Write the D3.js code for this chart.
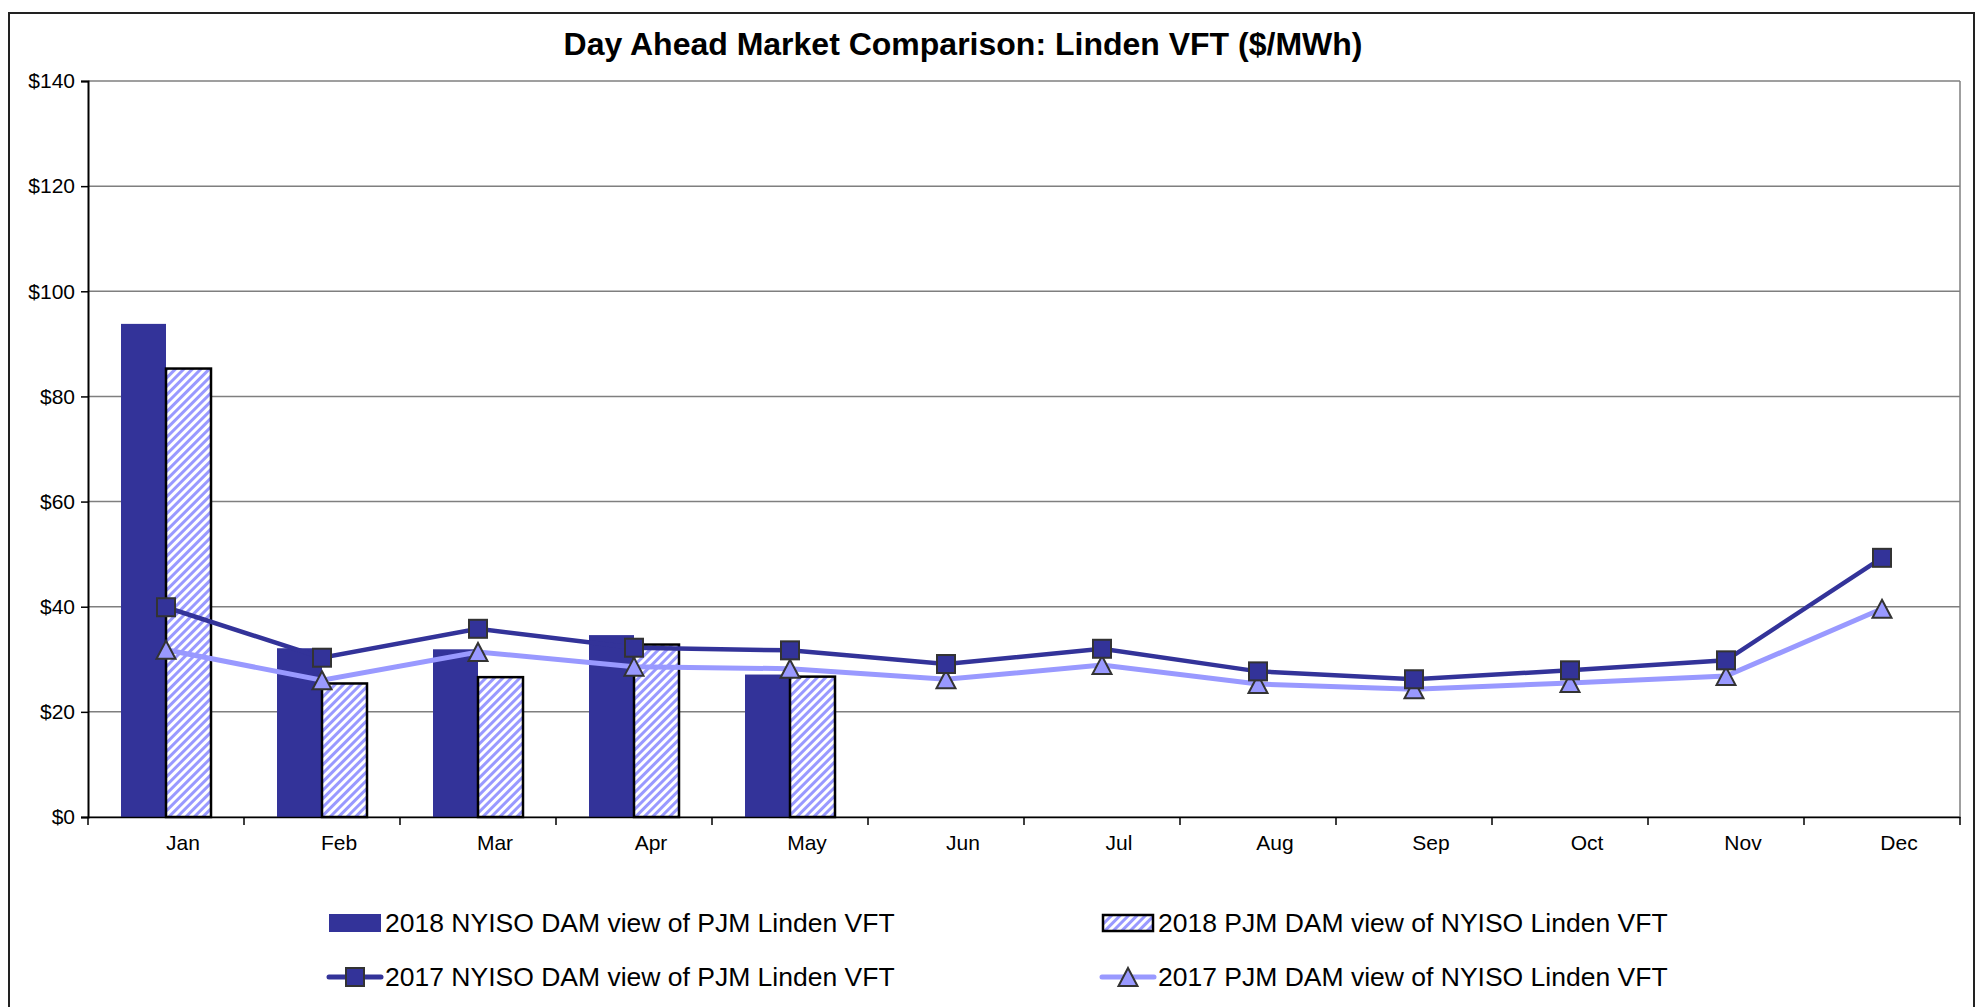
<!DOCTYPE html>
<html>
<head>
<meta charset="utf-8">
<script src="https://cdn.jsdelivr.net/npm/d3@7"></script>
<style>
  body { margin: 0; background: #fff; }
  svg { display: block; font-family: "Liberation Sans", Arial, sans-serif; }
</style>
</head>
<body>
<svg width="1982" height="1007"></svg>
<script>
var months = ['Jan', 'Feb', 'Mar', 'Apr', 'May', 'Jun', 'Jul', 'Aug', 'Sep', 'Oct', 'Nov', 'Dec'];
var yTicks = [0, 20, 40, 60, 80, 100, 120, 140];
// 2018 bars (only Jan-May)
var nyiso2018 = [93.8, 32.1, 31.9, 34.6, 27.1];
var pjm2018 = [85.3, 25.4, 26.6, 32.8, 26.7];
// 2017 lines
var nyiso2017 = [39.9, 30.3, 35.8, 32.2, 31.7, 29.1, 32.0, 27.7, 26.2, 27.9, 29.8, 49.3];
var pjm2017 = [31.8, 26.0, 31.4, 28.6, 28.2, 26.2, 28.9, 25.3, 24.3, 25.5, 26.8, 39.6];
var seriesNames = ['2018 NYISO DAM view of PJM Linden VFT', '2018 PJM DAM view of NYISO Linden VFT',
  '2017 NYISO DAM view of PJM Linden VFT', '2017 PJM DAM view of NYISO Linden VFT'];

var svg = d3.select('svg');
var dark = '#333399', light = '#9999ff', markStroke = '#333333';
var plotLeft = 88, plotTop = 81, plotW = 1872, plotH = 736;

// hatch pattern for the PJM bars
var defs = svg.append('defs');
var pat = defs.append('pattern')
  .attr('id', 'hatch')
  .attr('patternUnits', 'userSpaceOnUse')
  .attr('width', 6).attr('height', 6)
  .attr('patternTransform', 'rotate(45)');
pat.append('rect').attr('width', 6).attr('height', 6).attr('fill', '#fff');
pat.append('rect').attr('width', 3).attr('height', 6).attr('fill', light);

// outer frame
svg.append('rect')
  .attr('x', 9).attr('y', 13).attr('width', 1965).attr('height', 1020)
  .attr('fill', 'none').attr('stroke', '#222').attr('stroke-width', 2);

svg.append('text')
  .attr('x', 963).attr('y', 55)
  .attr('text-anchor', 'middle')
  .attr('font-size', 32).attr('font-weight', 'bold')
  .text('Day Ahead Market Comparison: Linden VFT ($/MWh)');

var g = svg.append('g').attr('transform', 'translate(' + plotLeft + ',' + plotTop + ')');

var x = d3.scaleBand().domain(months).range([0, plotW]);
var y = d3.scaleLinear().domain([0, 140]).range([plotH, 0]);
var barW = 45;

// gridlines
g.selectAll('.grid').data(yTicks).enter().append('line')
  .attr('x1', 0).attr('x2', plotW)
  .attr('y1', function(d) { return y(d); })
  .attr('y2', function(d) { return y(d); })
  .attr('stroke', '#7f7f7f').attr('stroke-width', 1.5);

// right edge of plot area
g.append('line')
  .attr('x1', plotW).attr('x2', plotW).attr('y1', 0).attr('y2', plotH)
  .attr('stroke', '#7f7f7f').attr('stroke-width', 1.5);

// bars
g.selectAll('.b1').data(nyiso2018).enter().append('rect')
  .attr('x', function(d, i) { return x(months[i]) + x.bandwidth() / 2 - barW; })
  .attr('y', function(d) { return y(d); })
  .attr('width', barW)
  .attr('height', function(d) { return plotH - y(d); })
  .attr('fill', dark);

g.selectAll('.b2').data(pjm2018).enter().append('rect')
  .attr('x', function(d, i) { return x(months[i]) + x.bandwidth() / 2; })
  .attr('y', function(d) { return y(d); })
  .attr('width', barW)
  .attr('height', function(d) { return plotH - y(d); })
  .attr('fill', 'url(#hatch)')
  .attr('stroke', '#000').attr('stroke-width', 2.5);

// axes
var yAxis = g.append('g')
  .call(d3.axisLeft(y).tickValues(yTicks).tickSize(7).tickPadding(6)
    .tickFormat(function(d) { return '$' + d; }));
yAxis.select('.domain').attr('stroke', '#000').attr('stroke-width', 2);
yAxis.selectAll('.tick line').attr('stroke', '#000').attr('stroke-width', 1.5);
yAxis.selectAll('text').attr('font-size', 21).attr('fill', '#000')
  .style('font-family', '"Liberation Sans", Arial, sans-serif');

var xAxis = g.append('g')
  .attr('transform', 'translate(0,' + plotH + ')')
  .call(d3.axisBottom(x).tickSize(0).tickPadding(18));
xAxis.select('.domain').attr('stroke', '#000').attr('stroke-width', 1.5);
// the month labels sit a little right of the band centre in the original
xAxis.selectAll('text').attr('font-size', 21).attr('fill', '#000').attr('dx', 17)
  .style('font-family', '"Liberation Sans", Arial, sans-serif');
xAxis.selectAll('.bnd').data(months.concat(['end'])).enter().append('line')
  .attr('x1', function(d, i) { return i * x.step(); })
  .attr('x2', function(d, i) { return i * x.step(); })
  .attr('y1', 0).attr('y2', 8)
  .attr('stroke', '#000').attr('stroke-width', 1.5);

// lines
var cx = function(d, i) { return x(months[i]) + x.bandwidth() / 2; };
var line = d3.line().x(cx).y(function(d) { return y(d); });

g.append('path').datum(pjm2017)
  .attr('d', line).attr('fill', 'none')
  .attr('stroke', light).attr('stroke-width', 5);
g.append('path').datum(nyiso2017)
  .attr('d', line).attr('fill', 'none')
  .attr('stroke', dark).attr('stroke-width', 4.5);

// triangle marker, centred on its bounding box
var tri = 'M0,-9L9.5,9L-9.5,9Z';
var sq = 18;
g.selectAll('.tri').data(pjm2017).enter().append('path')
  .attr('d', tri)
  .attr('transform', function(d, i) { return 'translate(' + cx(d, i) + ',' + y(d) + ')'; })
  .attr('fill', light).attr('stroke', markStroke).attr('stroke-width', 2);

g.selectAll('.sq').data(nyiso2017).enter().append('rect')
  .attr('x', function(d, i) { return cx(d, i) - sq / 2; })
  .attr('y', function(d) { return y(d) - sq / 2; })
  .attr('width', sq).attr('height', sq)
  .attr('fill', dark).attr('stroke', markStroke).attr('stroke-width', 2);

// legend
var legend = [
  { name: seriesNames[0], x: 329, y: 923, kind: 'bar' },
  { name: seriesNames[1], x: 1102, y: 923, kind: 'hatch' },
  { name: seriesNames[2], x: 329, y: 977, kind: 'sq' },
  { name: seriesNames[3], x: 1102, y: 977, kind: 'tri' }
];
legend.forEach(function(l) {
  var lg = svg.append('g').attr('transform', 'translate(' + l.x + ',' + l.y + ')');
  if (l.kind === 'bar') {
    lg.append('rect').attr('x', 0).attr('y', -9).attr('width', 52).attr('height', 18).attr('fill', dark);
  } else if (l.kind === 'hatch') {
    lg.append('rect').attr('x', 1).attr('y', -8).attr('width', 50).attr('height', 16)
      .attr('fill', 'url(#hatch)').attr('stroke', '#000').attr('stroke-width', 2.5);
  } else {
    var col = l.kind === 'sq' ? dark : light;
    lg.append('line').attr('x1', 0).attr('x2', 52).attr('y1', 0).attr('y2', 0)
      .attr('stroke', col).attr('stroke-width', 5).attr('stroke-linecap', 'round');
    if (l.kind === 'sq') {
      lg.append('rect').attr('x', 26 - sq / 2).attr('y', -sq / 2).attr('width', sq).attr('height', sq)
        .attr('fill', dark).attr('stroke', markStroke).attr('stroke-width', 2);
    } else {
      lg.append('path').attr('d', tri).attr('transform', 'translate(26,0)')
        .attr('fill', light).attr('stroke', markStroke).attr('stroke-width', 2);
    }
  }
  lg.append('text').attr('x', 56).attr('y', 9)
    .attr('font-size', 26.5).attr('fill', '#000')
    .text(l.name);
});
</script>
</body>
</html>
